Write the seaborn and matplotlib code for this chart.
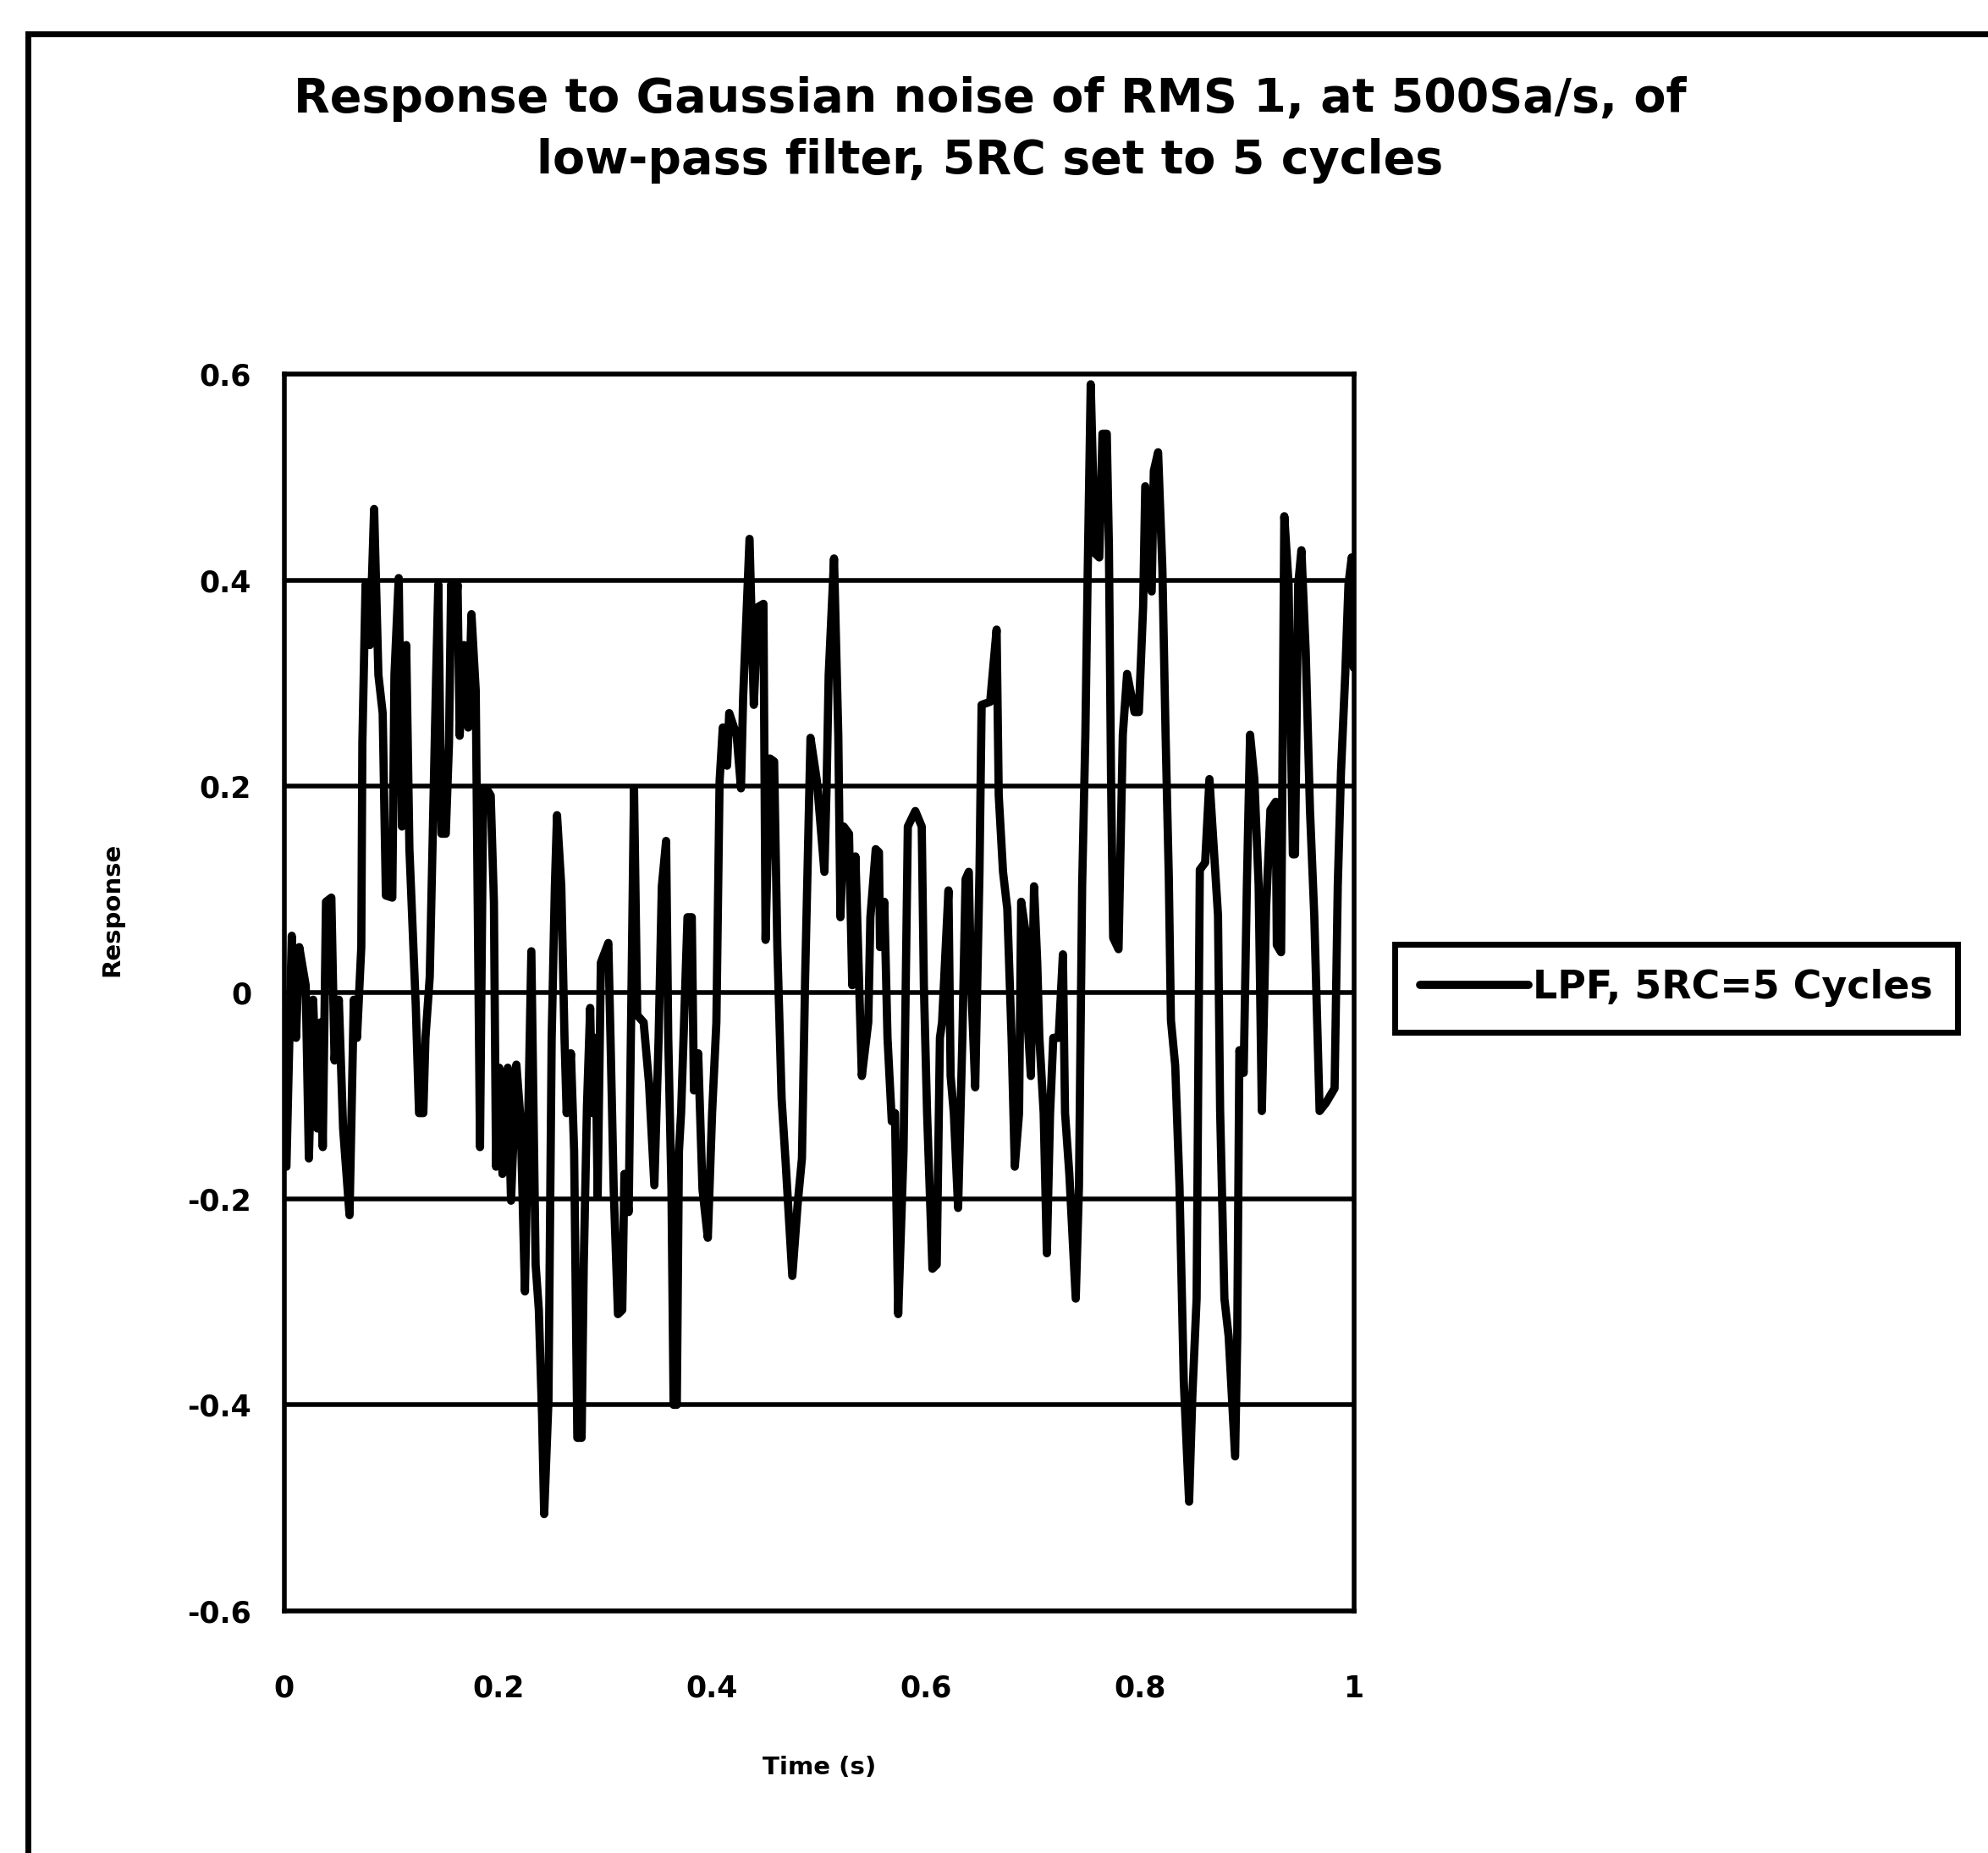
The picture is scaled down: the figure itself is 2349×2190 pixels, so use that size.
#!/usr/bin/env python3

# Import libraries
import pandas as pd
import matplotlib as mpl
mpl.use("Agg")
import matplotlib.pyplot as plt
from matplotlib.patches import Rectangle
import seaborn as sns


# Chart text
TITLE = "Response to Gaussian noise of RMS 1, at 500Sa/s, of\nlow-pass filter, 5RC set to 5 cycles"
SERIES_NAME = "LPF, 5RC=5 Cycles"
X_LABEL = "Time (s)"
Y_LABEL = "Response"

x_ticks = [0, 0.2, 0.4, 0.6, 0.8, 1]
x_ticklabels = ["0", "0.2", "0.4", "0.6", "0.8", "1"]
y_ticks = [-0.6, -0.4, -0.2, 0, 0.2, 0.4, 0.6]
y_ticklabels = ["-0.6", "-0.4", "-0.2", "0", "0.2", "0.4", "0.6"]

# Values (turning points of the trace)
time_s = [
    0.002, 0.007, 0.011, 0.014, 0.020, 0.023, 0.027, 0.031, 0.034, 0.036,
    0.039, 0.044, 0.047, 0.051, 0.055, 0.061, 0.065, 0.068, 0.072, 0.073,
    0.076, 0.080, 0.084, 0.088, 0.092, 0.095, 0.101, 0.103, 0.107, 0.110,
    0.114, 0.117, 0.123, 0.126, 0.130, 0.132, 0.136, 0.142, 0.144, 0.147,
    0.151, 0.154, 0.156, 0.159, 0.162, 0.164, 0.168, 0.172, 0.175, 0.179,
    0.183, 0.186, 0.189, 0.193, 0.196, 0.198, 0.201, 0.204, 0.209, 0.212,
    0.217, 0.221, 0.225,
    0.231, 0.235, 0.238, 0.241, 0.243, 0.247, 0.250, 0.253, 0.255, 0.259,
    0.262, 0.264, 0.268, 0.271, 0.274, 0.278, 0.280, 0.283, 0.286, 0.288,
    0.291, 0.293, 0.296, 0.303, 0.305, 0.308, 0.312, 0.316, 0.318, 0.322,
    0.327, 0.330, 0.336, 0.341, 0.346, 0.350, 0.353, 0.357, 0.359, 0.362,
    0.364, 0.367, 0.369, 0.371, 0.377, 0.381, 0.383, 0.387, 0.391, 0.396,
    0.400, 0.404, 0.407, 0.410, 0.414, 0.416, 0.423, 0.427, 0.429, 0.435,
    0.439, 0.443, 0.448, 0.450, 0.454, 0.458, 0.461, 0.465, 0.469, 0.475,
    0.480, 0.484, 0.487,
    0.492, 0.498, 0.505, 0.507, 0.509, 0.514, 0.518, 0.520, 0.523, 0.528,
    0.531, 0.534, 0.540, 0.546, 0.548, 0.553, 0.556, 0.557, 0.561, 0.564,
    0.568, 0.571, 0.574, 0.579, 0.583, 0.590, 0.596, 0.598, 0.601, 0.606,
    0.610, 0.613, 0.615, 0.621, 0.623, 0.626, 0.630, 0.634, 0.637, 0.640,
    0.642, 0.646, 0.650, 0.652, 0.660, 0.666, 0.668, 0.672, 0.676, 0.680,
    0.683, 0.687, 0.689, 0.693, 0.695, 0.698, 0.701, 0.704, 0.706, 0.710,
    0.713, 0.716, 0.719, 0.724, 0.728, 0.730, 0.734,
    0.740, 0.743, 0.746, 0.749, 0.751, 0.754, 0.758, 0.762, 0.765, 0.769,
    0.771, 0.773, 0.775, 0.780, 0.784, 0.788, 0.795, 0.799, 0.803, 0.805,
    0.811, 0.813, 0.817, 0.821, 0.824, 0.827, 0.829, 0.833, 0.837, 0.841,
    0.846, 0.849, 0.853, 0.856, 0.861, 0.865, 0.869, 0.873, 0.875, 0.879,
    0.883, 0.889, 0.891, 0.893, 0.897, 0.900, 0.903, 0.907, 0.911, 0.914,
    0.918, 0.922, 0.927, 0.928, 0.932, 0.935, 0.939, 0.943, 0.945, 0.948,
    0.951, 0.955, 0.959, 0.963, 0.968, 0.974, 0.982, 0.985, 0.988, 0.992,
    0.995, 0.998, 1.000,
]

response = [
    -0.169, 0.055, -0.044, 0.044, 0.007, -0.161, -0.007, -0.132, -0.029, -0.150,
    0.088, 0.092, -0.066, -0.007, -0.132, -0.216, -0.007, -0.044, 0.044, 0.242,
    0.396, 0.337, 0.469, 0.308, 0.271, 0.094, 0.092, 0.308, 0.402, 0.161,
    0.337, 0.139, -0.015, -0.117, -0.117, -0.044, 0.015, 0.308, 0.396, 0.154,
    0.154, 0.242, 0.396, 0.345, 0.396, 0.249, 0.337, 0.257, 0.367, 0.293,
    -0.150, 0.198, 0.198, 0.191, 0.088, -0.169, -0.073, -0.176, -0.073, -0.202,
    -0.070, -0.125, -0.290,
    0.040, -0.264, -0.308, -0.410, -0.506, -0.396, -0.044, 0.103, 0.172, 0.103,
    -0.044, -0.117, -0.059, -0.154, -0.432, -0.432, -0.264, -0.110, -0.015, -0.117,
    -0.044, -0.198, 0.029, 0.048, -0.044, -0.191, -0.312, -0.308, -0.176, -0.213,
    0.198, -0.022, -0.029, -0.088, -0.187, -0.044, 0.103, 0.147, -0.044, -0.191,
    -0.400, -0.400, -0.154, -0.117, 0.073, 0.073, -0.095, -0.059, -0.191, -0.238,
    -0.117, -0.029, 0.205, 0.257, 0.220, 0.271, 0.249, 0.198, 0.286, 0.440,
    0.279, 0.374, 0.377, 0.051, 0.227, 0.224, 0.044, -0.103, -0.169, -0.275,
    -0.205, -0.161, 0.015,
    0.247, 0.205, 0.117, 0.198, 0.308, 0.421, 0.249, 0.073, 0.161, 0.154,
    0.007, 0.132, -0.081, -0.029, 0.073, 0.139, 0.136, 0.044, 0.088, -0.044,
    -0.125, -0.117, -0.312, -0.154, 0.161, 0.176, 0.161, 0.007, -0.117, -0.268,
    -0.264, -0.044, -0.029, 0.099, -0.081, -0.117, -0.209, -0.044, 0.110, 0.117,
    0.015, -0.092, 0.117, 0.279, 0.282, 0.352, 0.191, 0.117, 0.081, -0.044,
    -0.169, -0.117, 0.088, 0.059, -0.029, -0.081, 0.103, 0.029, -0.044, -0.117,
    -0.253, -0.117, -0.044, -0.044, 0.037, -0.117, -0.176,
    -0.297, -0.188, 0.104, 0.250, 0.396, 0.590, 0.426, 0.422, 0.542, 0.542,
    0.433, 0.207, 0.053, 0.042, 0.250, 0.309, 0.272, 0.272, 0.374, 0.491,
    0.389, 0.506, 0.524, 0.411, 0.250, 0.112, -0.027, -0.071, -0.188, -0.377,
    -0.494, -0.392, -0.297, 0.119, 0.126, 0.207, 0.141, 0.075, -0.115, -0.297,
    -0.334, -0.450, -0.334, -0.056, -0.078, 0.104, 0.250, 0.207, 0.104, -0.115,
    0.082, 0.177, 0.185, 0.046, 0.039, 0.462, 0.396, 0.134, 0.134, 0.396,
    0.429, 0.331, 0.177, 0.075, -0.115, -0.107, -0.093, 0.104, 0.214, 0.309,
    0.396, 0.422, 0.315,
]


def plot():
    df = pd.DataFrame({"Time": time_s, "Response": response})

    sns.set_style("white")
    plt.rcParams["font.family"] = ["DejaVu Sans"]
    plt.rcParams["font.weight"] = "bold"
    plt.rcParams["text.color"] = "black"
    plt.rcParams["axes.labelcolor"] = "black"

    fig = plt.figure(figsize=(23.49, 21.90), dpi=100)
    ax = fig.add_axes([0.143, 0.1306, 0.538, 0.6676])

    sns.lineplot(data=df, x="Time", y="Response", ax=ax, color="black",
                 linewidth=7, estimator=None, sort=False, label=SERIES_NAME)

    ax.set_xlim(0, 1)
    ax.set_ylim(-0.6, 0.6)
    ax.set_xticks(x_ticks)
    ax.set_xticklabels(x_ticklabels, fontsize=25, fontweight="bold")
    ax.set_yticks(y_ticks)
    ax.set_yticklabels(y_ticklabels, fontsize=25, fontweight="bold")
    ax.tick_params(axis="x", direction="out", length=12, width=3, pad=42, colors="black")
    ax.tick_params(axis="y", direction="out", length=12, width=3, pad=16, colors="black")

    # Black horizontal gridlines like the Excel original
    ax.set_axisbelow(True)
    ax.yaxis.grid(True, color="black", linewidth=4)
    ax.xaxis.grid(False)
    for spine in ax.spines.values():
        spine.set_visible(True)
        spine.set_color("black")
        spine.set_linewidth(4)

    ax.set_xlabel(X_LABEL, fontsize=21, fontweight="bold")
    ax.xaxis.set_label_coords(0.5, -0.117)
    ax.set_ylabel(Y_LABEL, fontsize=21, fontweight="bold")
    ax.yaxis.set_label_coords(-0.150, 0.567)

    fig.suptitle(TITLE, x=0.498, y=0.930, va="center", fontsize=40,
                 fontweight="bold", linespacing=1.45, color="black")

    # Legend box to the right of the plot
    leg = ax.legend(loc="center left", bbox_to_anchor=(1648 / 2349, 1 - 1168 / 2190),
                    bbox_transform=fig.transFigure, frameon=True, fancybox=False,
                    edgecolor="black", framealpha=1, fontsize=33, borderpad=0.65,
                    handlelength=2.8, handletextpad=0.1, borderaxespad=0)
    leg.get_frame().set_linewidth(5)
    for line in leg.get_lines():
        line.set_linewidth(7)

    # Outer chart area border (cropped at right and bottom in the scan)
    fig.add_artist(Rectangle((33 / 2349, -0.05), 1.2, 1.05 - 40 / 2190,
                             transform=fig.transFigure, fill=False,
                             edgecolor="black", linewidth=5))
    return fig


def main():
    fig = plot()
    fig.savefig("out.png", dpi=100)


if __name__ == '__main__':
    main()
